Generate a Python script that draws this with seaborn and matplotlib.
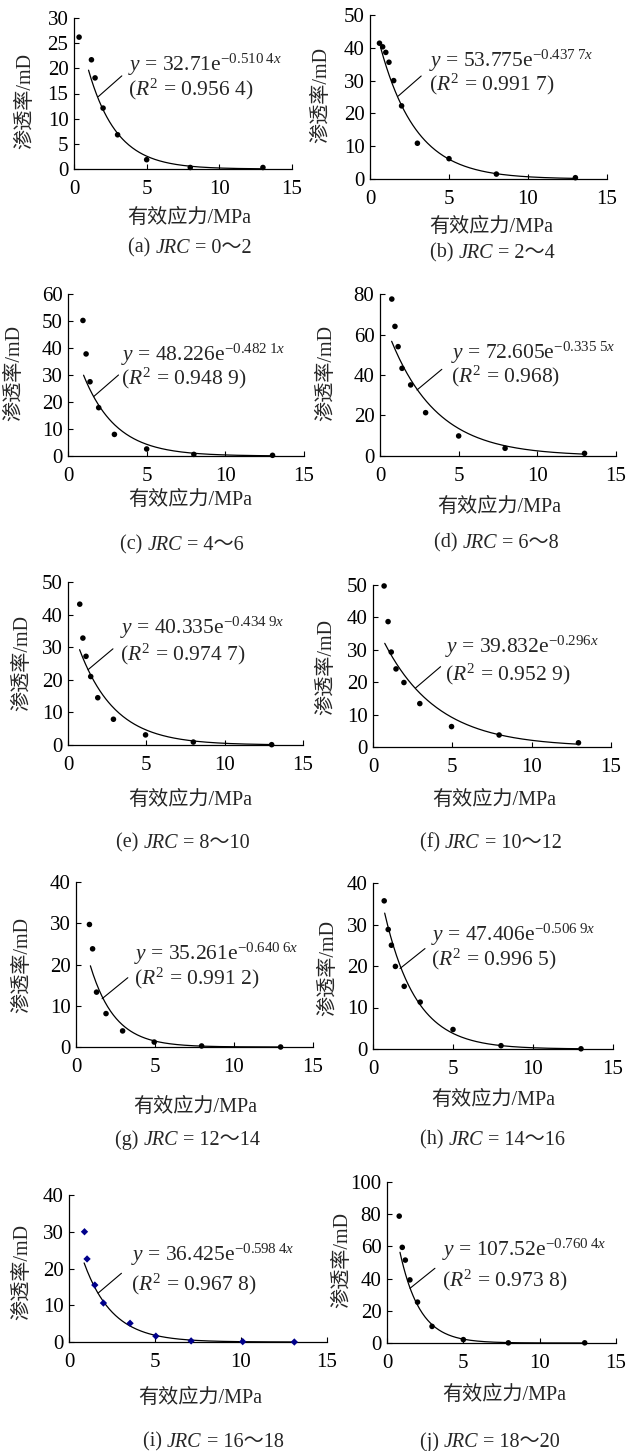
import numpy as np
import matplotlib.pyplot as plt
import seaborn as sns

sns.set_style('ticks')
plt.rcParams['font.family'] = ['Liberation Serif', 'Noto Sans CJK SC']
plt.rcParams['mathtext.fontset'] = 'custom'
plt.rcParams['mathtext.rm'] = 'Liberation Serif'
plt.rcParams['mathtext.it'] = 'Liberation Serif:italic'
plt.rcParams['axes.unicode_minus'] = True

# measured points, effective stress (MPa) vs permeability (mD)
stress_a = [0.35, 1.2, 1.45, 2, 3, 5, 8, 13]
perm_a = [26.2, 21.7, 18.1, 12.1, 6.8, 1.85, 0.3, 0.3]
stress_b = [0.6, 0.8, 1.0, 1.2, 1.5, 2, 3, 5, 8, 13]
perm_b = [41.4, 40.3, 38.6, 35.6, 30.0, 22.3, 10.9, 6.2, 1.5, 0.4]
stress_c = [0.95, 1.15, 1.4, 1.95, 2.95, 5, 8, 13]
perm_c = [50.2, 37.8, 27.5, 17.9, 8.0, 2.6, 0.6, 0.25]
stress_d = [0.75, 0.95, 1.15, 1.4, 1.95, 2.9, 5, 7.95, 13]
perm_d = [77.5, 64.0, 54.0, 43.3, 35.1, 21.4, 9.9, 3.8, 1.3]
stress_e = [0.75, 0.95, 1.15, 1.45, 1.9, 2.9, 4.95, 8, 13]
perm_e = [43.2, 32.8, 27.2, 21.0, 14.5, 7.9, 3.1, 0.9, 0.1]
stress_f = [0.7, 0.95, 1.15, 1.45, 1.95, 2.95, 4.95, 7.95, 12.95]
perm_f = [49.7, 38.7, 29.3, 24.1, 19.9, 13.4, 6.3, 3.7, 1.3]
stress_g = [0.85, 1.05, 1.3, 1.9, 2.95, 4.95, 7.95, 12.95]
perm_g = [29.7, 23.8, 13.3, 8.1, 3.9, 1.2, 0.25, 0.0]
stress_h = [0.7, 0.95, 1.15, 1.4, 1.95, 2.95, 5, 8, 13]
perm_h = [35.7, 28.8, 25.0, 19.9, 15.1, 11.3, 4.7, 0.8, 0.05]
stress_i = [0.9, 1.05, 1.5, 2.0, 3.55, 5.05, 7.1, 10.1, 13.1]
perm_i = [30.0, 22.6, 15.5, 10.6, 5.1, 1.6, 0.3, 0.1, 0.0]
stress_j = [0.8, 1.0, 1.2, 1.5, 2.0, 2.95, 5.0, 7.95, 12.95]
perm_j = [78.8, 59.4, 51.5, 39.2, 25.4, 10.3, 2.1, 0.1, 0.1]

stresses = [stress_a, stress_b, stress_c, stress_d, stress_e,
            stress_f, stress_g, stress_h, stress_i, stress_j]
perms = [perm_a, perm_b, perm_c, perm_d, perm_e,
         perm_f, perm_g, perm_h, perm_i, perm_j]

# fitted curves y = A exp(-k x)
fit_coef = ['32.71', '53.775', '48.226', '72.605', '40.335',
            '39.832', '35.261', '47.406', '36.425', '107.52']
fit_rate = ['0.510 4', '0.437 7', '0.482 1', '0.335 5', '0.434 9',
            '0.296', '0.640 6', '0.506 9', '0.598 4', '0.760 4']
fit_r2 = ['0.956 4', '0.991 7', '0.948 9', '0.968', '0.974 7',
          '0.952 9', '0.991 2', '0.996 5', '0.967 8', '0.973 8']

letters = ['a', 'b', 'c', 'd', 'e', 'f', 'g', 'h', 'i', 'j']
jrc_ranges = ['0～2', '2～4', '4～6', '6～8', '8～10',
              '10～12', '12～14', '14～16', '16～18', '18～20']
y_max = [30, 50, 60, 80, 50, 50, 40, 40, 40, 100]
y_step = [5, 10, 10, 20, 10, 10, 10, 10, 10, 20]

# layout (pixels): axes box l, t, r, b
boxes = [(74, 18, 292, 169), (370, 15, 607, 179),
         (68, 294, 304, 456), (380, 294, 616, 456),
         (68, 582, 303, 745), (373, 585, 611, 747),
         (76, 882, 313, 1047), (373, 883, 613, 1049),
         (69, 1195, 327, 1342), (387, 1182, 616, 1343)]
curve_start = [1.0, 0.67, 0.99, 0.74, 0.74, 0.74, 0.91, 0.73, 0.88, 0.85]
# text x, line1 y, line2 y, leader (x0, y0, x1, y1) in data units
notes = [(3.75, 20.7, 15.8, 1.68, 14.4, 3.29, 18.5),
         (3.73, 36.1, 28.7, 1.79, 25.3, 3.24, 31.4),
         (3.36, 37.4, 28.8, 1.63, 22.0, 3.21, 30.0),
         (4.5, 50.7, 39.2, 2.35, 32.6, 3.93, 42.8),
         (3.34, 35.9, 27.7, 1.28, 23.1, 2.87, 29.5),
         (4.53, 31.0, 22.3, 2.68, 18.2, 4.26, 24.8),
         (3.7, 22.6, 16.6, 1.65, 11.7, 3.28, 16.8),
         (3.6, 27.4, 21.5, 1.69, 19.4, 3.25, 24.2),
         (3.6, 23.7, 15.8, 1.69, 13.3, 3.05, 18.7),
         (3.6, 57.7, 38.6, 1.51, 34.0, 3.14, 46.4)]
ylab_pos = [(26, 101), (322, 95), (15, 373), (327, 373), (23, 663),
            (327, 667), (23, 965), (329, 968), (23, 1272), (343, 1260)]
xlab_pos = [(189, 218), (491, 227), (190, 500), (499, 507), (190, 800),
            (494, 800), (195, 1107), (493, 1100), (200, 1398), (504, 1395)]
cap_pos = [(128, 248), (430, 253), (120, 545), (434, 543), (116, 843),
           (420, 843), (115, 1140), (420, 1140), (143, 1442), (420, 1442)]

W, H = 628, 1451
fig = plt.figure(figsize=(W / 100, H / 100), dpi=100)

for n in range(10):
    l, t, r, b = boxes[n]
    ax = fig.add_axes([l / W, 1 - b / H, (r - l) / W, (b - t) / H])

    if letters[n] == 'i':
        sns.scatterplot(x=stresses[n], y=perms[n], ax=ax, marker='D', s=14,
                        color='#00008b', edgecolor='none', clip_on=False, zorder=3)
    else:
        sns.scatterplot(x=stresses[n], y=perms[n], ax=ax, marker='o', s=16,
                        color='black', edgecolor='none', clip_on=False, zorder=3)

    A = float(fit_coef[n])
    k = float(fit_rate[n].replace(' ', ''))
    xs = np.linspace(curve_start[n], 13, 200)
    sns.lineplot(x=xs, y=A * np.exp(-k * xs), ax=ax, color='black', lw=0.9)

    tx, ty1, ty2, x0, y0, x1, y1 = notes[n]
    ax.plot([x0, x1], [y0, y1], color='black', lw=0.8)
    rate = fit_rate[n].replace(' ', r'\;')
    ax.text(tx, ty1, r'$y$ = ' + fit_coef[n] + r'e$^{-' + rate + r'x}$',
            fontsize=15.5, va='center', ha='left')
    ax.text(tx, ty2, r'($R^2$ = ' + fit_r2[n] + ')', fontsize=15.5,
            va='center', ha='left')

    ax.set_xlim(0, 15)
    ax.set_ylim(0, y_max[n])
    ax.set_xticks([0, 5, 10, 15])
    ax.set_yticks(np.arange(0, y_max[n] + 1, y_step[n]))
    ax.tick_params(direction='in', length=3.5, width=0.8, labelsize=15, colors='black')
    ax.tick_params(axis='x', pad=8)
    ax.tick_params(axis='y', pad=4)
    sns.despine(ax=ax)
    for s in ['left', 'bottom']:
        ax.spines[s].set_linewidth(0.9)
        ax.spines[s].set_color('black')

    ax.set_ylabel('渗透率/mD', fontsize=14.5)
    ax.yaxis.label.set_va('center')
    ax.yaxis.set_label_coords((ylab_pos[n][0] - l) / (r - l), (b - ylab_pos[n][1]) / (b - t))
    ax.set_xlabel('有效应力/MPa', fontsize=14.5)
    ax.xaxis.label.set_va('center')
    ax.xaxis.set_label_coords((xlab_pos[n][0] - l) / (r - l), (b - xlab_pos[n][1]) / (b - t))

    # caption: (a) JRC = 0～2
    cx, cy = cap_pos[n]
    t1 = fig.text(cx / W, 1 - cy / H, '(' + letters[n] + ') ', fontsize=14.5,
                  ha='left', va='center')
    t2 = ax.annotate('JRC', xy=(1, 0), xycoords=t1, fontsize=14.5, fontstyle='italic',
                     ha='left', va='bottom', annotation_clip=False)
    ax.annotate(' = ' + jrc_ranges[n], xy=(1, 0), xycoords=t2, fontsize=14.5,
                ha='left', va='bottom', annotation_clip=False)

fig.savefig('out.png', dpi=100, facecolor='white')
